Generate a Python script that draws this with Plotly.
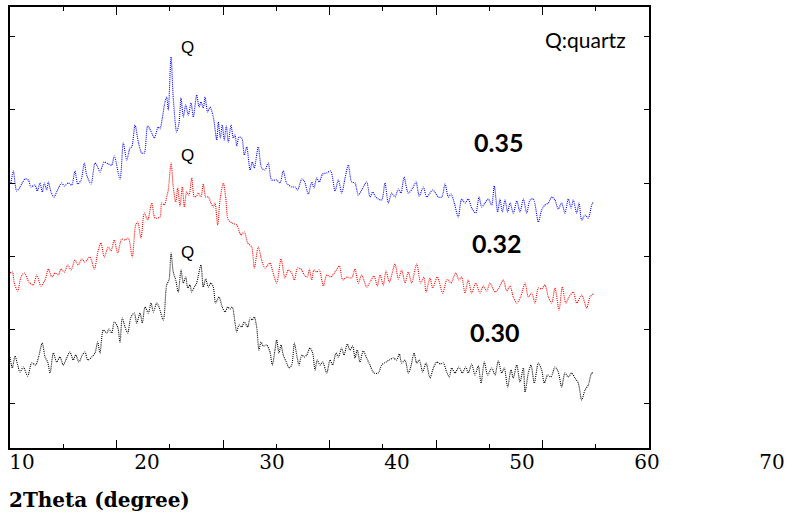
import plotly.graph_objects as go

# ---- data (2Theta in degrees, intensity in a.u., curves already offset) ----
theta_035 = [10.09,10.31,10.63,10.94,11.41,11.72,11.97,12.35,12.56,12.82,13.03,13.22,13.45,13.60,13.85,14.13,14.38,14.85,15.10,15.47,15.79,16.10,16.36,16.67,16.98,17.20,17.61,17.98,18.23,18.45,18.85,19.23,19.55,19.79,20.33,20.64,20.96,21.27,21.43,21.74,22.05,22.37,22.61,22.93,23.31,23.55,23.92,
             24.08,24.30,24.55,24.71,24.86,25.12,25.33,25.65,25.87,26.06,26.27,26.50,26.74,27.00,27.21,27.53,27.75,27.93,28.15,28.31,28.56,28.78,29.09,29.41,29.56,29.75,29.93,30.12,30.31,30.50,30.75,30.97,31.13,31.29,31.50,31.76,32.00,32.23,32.54,32.75,32.94,33.31,33.63,33.94,34.25,34.57,35.04,35.35,35.66,35.98,36.45,36.76,37.01,37.39,37.63,
             38.01,38.33,38.54,38.80,39.04,39.36,39.74,40.11,40.52,40.83,41.15,41.46,41.77,42.08,42.39,42.70,43.02,43.49,43.80,44.06,44.27,44.58,44.90,45.21,45.52,45.84,46.15,46.46,46.71,47.00,47.40,47.81,48.12,48.43,48.81,49.13,49.69,50.22,50.54,50.85,51.16,
             51.41,51.72,52.09,52.41,52.72,53.03,53.35,53.73,54.04,54.29,54.60,54.91,55.23,55.47,55.79,56.01,56.23,56.48,56.73,56.95,57.26,57.58,57.89,58.20,58.52,58.83,59.14,59.61,59.92,60.23,60.55,60.86,61.17,61.48,61.80,62.11,62.42,62.68,62.89,63.21,63.43,63.68,63.99,64.30,64.62,64.77]
int_035 = [265,277,257,261,269,268,261,263,257,265,256,265,258,266,256,251,256,265,262,265,263,277,264,268,285,273,264,285,281,276,286,284,283,292,269,305,288,300,301,323,306,295,295,322,315,310,321,
           319,330,346,351,338,391,350,316,325,350,331,343,333,345,331,353,341,346,340,351,336,341,331,308,326,310,323,308,322,306,323,310,313,302,311,310,293,301,278,286,280,301,280,278,285,268,268,265,277,265,261,261,258,269,267,
           254,266,260,270,266,274,275,277,257,268,255,270,283,266,265,253,258,266,251,256,252,249,248,265,245,255,251,259,255,271,255,260,266,252,261,251,258,251,251,264,251,
           254,245,231,249,245,249,240,235,251,241,245,249,243,262,236,249,236,248,236,245,235,247,236,249,235,248,249,226,238,243,245,251,248,239,245,235,249,240,248,235,245,228,233,230,243,246]

theta_032 = [10.00,10.22,10.40,10.72,11.03,11.34,11.78,12.19,12.51,12.91,13.29,13.60,13.92,14.23,14.54,14.79,15.10,15.42,15.73,16.10,16.41,16.73,17.04,17.51,17.92,18.23,18.54,18.85,19.23,19.48,19.79,20.11,20.49,20.80,21.11,21.48,21.80,21.99,22.30,22.61,22.93,23.31,23.62,
             24.08,24.24,24.49,24.71,24.86,25.12,25.33,25.56,25.75,25.96,26.18,26.37,26.59,26.81,27.06,27.31,27.53,27.68,27.93,28.15,28.38,28.62,28.87,29.09,29.25,29.50,29.72,30.03,30.25,30.50,30.87,31.29,31.69,32.00,32.32,32.69,32.94,33.31,33.63,33.94,34.41,34.63,35.04,35.45,35.82,36.13,36.45,36.70,37.01,37.39,37.63,
             37.92,38.10,38.33,38.54,38.80,39.04,39.42,39.74,40.11,40.52,40.92,41.24,41.62,42.08,42.39,42.70,43.02,43.49,43.80,44.18,44.49,44.74,45.05,45.31,45.62,46.15,46.46,46.78,47.09,47.40,47.72,48.19,48.56,48.87,49.06,49.44,49.69,50.12,50.63,51.00,
             51.16,51.41,51.85,52.16,52.41,52.72,53.03,53.35,53.73,54.13,54.44,54.76,55.07,55.54,55.85,56.32,56.64,56.95,57.26,57.58,57.98,58.36,58.67,58.99,59.30,59.61,59.92,60.23,60.55,60.86,61.17,61.55,61.86,62.18,62.49,62.89,63.21,63.68,64.15,64.46,64.77]
int_032 = [175,176,165,157,171,175,166,163,173,162,168,179,171,175,173,179,176,183,178,188,183,189,186,191,179,195,205,191,201,197,208,195,209,208,210,191,223,226,210,235,228,245,230,
           231,245,243,251,258,285,261,246,260,242,261,241,256,253,270,251,252,255,251,264,251,251,245,241,245,223,248,265,251,228,225,223,213,216,205,201,180,201,188,180,185,178,165,189,170,178,175,168,180,178,173,
           171,179,168,178,176,178,162,173,171,176,182,168,171,170,179,165,173,161,166,172,162,173,163,177,166,184,169,178,165,176,165,184,165,171,156,170,160,171,155,168,
           168,165,175,168,171,155,168,155,165,155,162,157,165,156,159,168,157,162,151,145,152,165,151,155,145,160,159,163,151,145,160,138,161,145,151,156,145,153,140,151,154]

theta_030 = [10.00,10.22,10.47,10.72,10.94,11.25,11.66,12.04,12.41,12.66,13.03,13.29,13.54,13.76,14.07,14.38,14.69,15.00,15.32,15.63,15.94,16.17,16.48,16.79,17.04,17.30,17.67,17.98,18.23,18.45,18.76,19.08,19.30,19.55,19.79,20.11,20.33,20.54,20.80,21.05,21.36,21.67,21.90,22.21,22.42,22.68,22.99,23.24,23.46,23.78,23.99,
             24.40,24.71,24.93,25.12,25.33,25.56,25.80,26.06,26.27,26.50,26.69,26.90,27.06,27.31,27.53,27.68,27.93,28.15,28.38,28.62,28.87,29.09,29.31,29.62,29.93,30.19,30.44,30.66,30.87,31.13,31.29,31.50,31.76,32.00,32.32,32.54,32.75,32.94,33.16,33.38,33.57,33.78,34.10,34.41,34.63,34.88,35.04,35.26,35.45,35.66,35.98,36.20,36.45,36.70,36.92,37.14,37.39,37.63,
             37.86,38.17,38.42,38.64,38.85,39.11,39.36,39.74,40.05,40.30,40.61,40.83,41.15,41.36,41.67,41.92,42.18,42.39,42.61,42.86,43.17,43.49,43.80,44.18,44.58,44.90,45.31,45.62,45.99,46.31,46.56,46.78,47.09,47.40,47.63,47.94,48.19,48.43,48.75,49.06,49.44,49.75,50.07,50.38,50.69,51.00,51.25,
             51.47,51.78,52.16,52.47,52.79,53.03,53.35,53.66,53.97,54.23,54.54,54.85,55.23,55.54,55.85,56.17,56.41,56.73,57.04,57.26,57.58,57.89,58.20,58.36,58.67,58.92,59.23,59.61,59.92,60.17,60.49,60.80,61.17,61.48,61.80,62.11,62.42,62.74,63.05,63.36,63.68,63.99,64.30,64.62,64.77]
int_030 = [91,80,92,83,76,81,72,85,83,90,105,91,86,75,95,86,91,83,90,96,88,93,86,93,96,88,91,95,106,95,118,115,119,115,126,121,106,130,121,115,131,135,125,135,125,141,135,145,136,145,141,
           128,163,168,195,176,168,156,178,165,171,160,163,156,161,165,172,183,161,169,161,165,161,145,151,141,136,141,139,141,125,116,123,121,126,121,130,128,131,121,98,106,102,103,96,83,98,108,95,103,93,85,80,83,105,93,83,93,91,
           93,100,95,78,88,83,86,75,88,83,95,91,100,93,104,98,102,90,98,86,97,90,83,75,75,83,86,88,90,88,94,85,88,75,81,95,85,88,76,85,70,80,86,84,85,76,71,
           80,75,81,75,81,75,84,73,82,65,86,73,80,73,87,75,80,61,78,70,83,66,80,56,75,83,65,85,78,65,73,71,81,76,61,75,71,75,70,65,48,58,63,75,75]

series_names = ["0.30", "0.32", "0.35"]
series_colors = ["#000000", "#ff0000", "#0000ff"]
q_theta = [26.71, 26.71, 26.71]
q_int = [196, 293, 401]
x_tick_labels = [10, 20, 30, 40, 50, 60, 70]

fig = go.Figure()
for th, it, c, n in [(theta_030, int_030, series_colors[0], series_names[0]),
                     (theta_032, int_032, series_colors[1], series_names[1]),
                     (theta_035, int_035, series_colors[2], series_names[2])]:
    fig.add_trace(go.Scatter(x=th, y=it, mode="lines", name=n,
                             line=dict(color=c, width=1.1, dash="1px,1px",
                                       shape="spline", smoothing=0.8),
                             showlegend=False, hoverinfo="skip"))

# invisible helper trace for the tick-label axis (own subplot x2/y2)
fig.add_trace(go.Scatter(x=[x_tick_labels[0]], y=[0], xaxis="x2", yaxis="y2", mode="markers",
                         marker=dict(opacity=0), showlegend=False, hoverinfo="skip"))

W, H = 787, 520
ml, mr, mt, mb = 10, 0, 7, 72
plot_w = W - ml - mr
plot_h = H - mt - mb
frame_right = 649
dom_right = (frame_right - ml) / plot_w

# label axis: value v sits at pixel 22 + (v-10)*12.5
v_left = 10 - (22 - ml) / 12.5
v_right = v_left + plot_w / 12.5

fig.update_layout(
    width=W, height=H, margin=dict(l=ml, r=mr, t=mt, b=mb),
    paper_bgcolor="white", plot_bgcolor="rgba(0,0,0,0)",
    xaxis=dict(domain=[0, dom_right], range=[10, 70], dtick=10, tick0=10,
               ticks="inside", ticklen=8, tickwidth=1, tickcolor="black",
               minor=dict(dtick=5, tick0=10, ticks="inside", ticklen=4, tickwidth=1,
                          tickcolor="black", showgrid=False),
               showticklabels=False, showgrid=False, zeroline=False,
               showline=True, linecolor="black", linewidth=1.5, mirror="ticks"),
    yaxis=dict(range=[0, 441], tick0=45, dtick=73.3, ticks="inside", ticklen=5,
               tickcolor="black", showticklabels=False, showgrid=False, zeroline=False,
               showline=True, linecolor="black", linewidth=2, mirror="ticks"),
    xaxis2=dict(domain=[0, 1], anchor="y2", range=[v_left, v_right],
                tickvals=x_tick_labels, ticks="", showline=False, showgrid=False, zeroline=False,
                tickfont=dict(family="DejaVu Serif", size=20, color="black")),
    yaxis2=dict(domain=[0, 1], anchor="x2", range=[0, 1], visible=False),
)

for th, it in zip(q_theta, q_int):
    fig.add_annotation(x=th, y=it, xref="x", yref="y", text="Q", showarrow=False,
                       xanchor="center", yanchor="middle",
                       font=dict(family="Liberation Sans", size=17, color="black"))

fig.add_annotation(x=(585 - ml) / plot_w, y=(448 - 40) / plot_h, xref="paper", yref="paper",
                   xanchor="center", yanchor="middle",
                   text="Q:quartz", showarrow=False,
                   font=dict(family="Lato", size=21, color="black"))

label_px = [(494, 332), (496, 243), (498, 142)]
for n, (px, py) in zip(series_names, label_px):
    fig.add_annotation(x=10 + (px - 10) / 10.65, y=448 - py, xref="x", yref="y",
                       xanchor="center", yanchor="middle",
                       text="<b>%s</b>" % n,
                       showarrow=False, font=dict(family="Lato", size=25, color="black"))

fig.add_annotation(x=(7 - ml) / plot_w, y=-(500 - 448) / plot_h, xref="paper", yref="paper",
                   xanchor="left", yanchor="middle", text="<b>2Theta (degree)</b>", showarrow=False,
                   font=dict(family="DejaVu Serif", size=20, color="black"))

fig.write_html("out.html", config={"displayModeBar": False},
               post_script="document.body.style.margin='0px';")
